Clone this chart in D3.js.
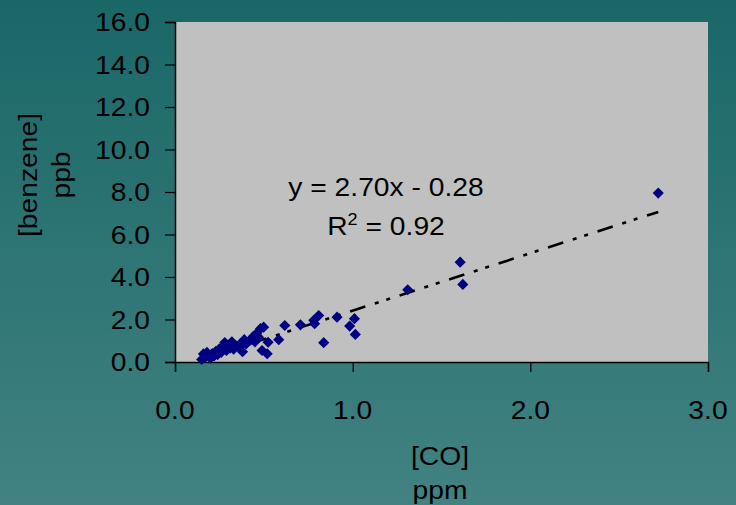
<!DOCTYPE html>
<html>
<head>
<meta charset="utf-8">
<script src="https://cdn.jsdelivr.net/npm/d3@7"></script>
<style>
  html, body { margin: 0; padding: 0; }
  body { width: 736px; height: 505px; overflow: hidden; }
  text { font-family: "Liberation Sans", Arial, sans-serif; fill: #000; }
</style>
</head>
<body>
<svg id="chart" width="736" height="505"></svg>
<script>
// CO (ppm) vs benzene (ppb) samples
const coPpm = [
  2.72, 1.605, 1.62, 1.31, 1.015, 1.01, 0.983, 0.912, 0.837, 0.809,
  0.781, 0.786, 0.706, 0.618, 0.584, 0.524, 0.519, 0.49, 0.499, 0.481,
  0.15, 0.16, 0.17, 0.18, 0.19, 0.20, 0.21, 0.22, 0.23, 0.24,
  0.25, 0.26, 0.27, 0.28, 0.29, 0.30, 0.31, 0.32, 0.33, 0.34,
  0.36, 0.37, 0.38, 0.39, 0.40, 0.42, 0.44, 0.45, 0.46, 0.47
];
const benzenePpb = [
  7.95, 4.70, 3.65, 3.40, 1.30, 2.04, 1.69, 2.11, 0.91, 2.19,
  1.96, 1.80, 1.75, 1.72, 1.05, 0.93, 0.39, 0.54, 1.64, 1.57,
  0.12, 0.38, 0.22, 0.45, 0.30, 0.18, 0.40, 0.28, 0.50, 0.35,
  0.62, 0.45, 0.72, 0.92, 0.55, 0.80, 0.65, 0.95, 0.60, 0.78,
  0.70, 0.88, 0.48, 1.05, 0.85, 1.00, 1.20, 0.95, 1.35, 1.17
];
const xTicks = [0, 1, 2, 3];
const yTicks = [0, 2, 4, 6, 8, 10, 12, 14, 16];
const fitSlope = 2.70;
const fitIntercept = -0.28;
const fitLabel = "y = 2.70x - 0.28";
const r2Label = "0.92";

const svg = d3.select("#chart");
const W = 736, H = 505;
const plot = { left: 175, right: 708, top: 22, bottom: 362 };
const stretch = 1.13; // fonts are slightly wide

// background gradient
const defs = svg.append("defs");
const grad = defs.append("linearGradient").attr("id", "bg")
  .attr("x1", 0).attr("y1", 0).attr("x2", 0).attr("y2", 1);
grad.append("stop").attr("offset", "0%").attr("stop-color", "#1a6767");
grad.append("stop").attr("offset", "100%").attr("stop-color", "#428282");
svg.append("rect").attr("width", W).attr("height", H).attr("fill", "url(#bg)");

const x = d3.scaleLinear().domain([0, 3]).range([plot.left, plot.right]);
const y = d3.scaleLinear().domain([0, 16]).range([plot.bottom, plot.top]);

// plot area
svg.append("rect")
  .attr("x", plot.left).attr("y", plot.top)
  .attr("width", plot.right - plot.left).attr("height", plot.bottom - plot.top)
  .attr("fill", "#c0c0c0");

function wideText(g, tx, ty, str, anchor, size) {
  return g.append("text")
    .attr("transform", `translate(${tx},${ty}) scale(${stretch},1)`)
    .attr("text-anchor", anchor)
    .style("font-size", size + "px")
    .text(str);
}

// y axis
const yAxis = svg.append("g")
  .attr("transform", `translate(${plot.left},0)`)
  .call(d3.axisLeft(y).tickValues(yTicks).tickSize(10).tickFormat(""));
yAxis.select(".domain").attr("stroke", "#000").attr("stroke-width", 1.5);
yAxis.selectAll(".tick line").attr("stroke", "#000").attr("stroke-width", 1.2);
yTicks.forEach(v => wideText(svg, 150, y(v) + 9, d3.format(".1f")(v), "end", 25));

// x axis
const xAxis = svg.append("g")
  .attr("transform", `translate(0,${plot.bottom})`)
  .call(d3.axisBottom(x).tickValues(xTicks).tickSize(10).tickFormat(""));
xAxis.select(".domain").attr("stroke", "#000").attr("stroke-width", 1.5);
xAxis.selectAll(".tick line").attr("stroke", "#000").attr("stroke-width", 1.2);
xTicks.forEach(v => wideText(svg, x(v), 419, d3.format(".1f")(v), "middle", 25));

// axis titles
wideText(svg, 440, 465, "[CO]", "middle", 25);
wideText(svg, 440, 499, "ppm", "middle", 25);
const yt1 = svg.append("g").attr("transform", `translate(37,175) rotate(-90)`);
yt1.append("text").attr("text-anchor", "middle").style("font-size", "25px")
  .attr("transform", `scale(${stretch},1)`).text("[benzene]");
const yt2 = svg.append("g").attr("transform", `translate(70,175) rotate(-90)`);
yt2.append("text").attr("text-anchor", "middle").style("font-size", "25px")
  .attr("transform", `scale(${stretch},1)`).text("ppb");

// linear fit line (dash-dot-dot)
const xMin = d3.min(coPpm), xMax = d3.max(coPpm);
svg.append("line")
  .attr("x1", x(xMin)).attr("y1", y(fitSlope * xMin + fitIntercept))
  .attr("x2", x(xMax)).attr("y2", y(fitSlope * xMax + fitIntercept))
  .attr("stroke", "#000").attr("stroke-width", 2.6)
  .attr("stroke-dasharray", "16,10,4,8,4,10");

// points
const diamond = d3.symbol().type(d3.symbolSquare).size(62);
svg.append("g").selectAll("path")
  .data(coPpm.map((c, i) => [c, benzenePpb[i]]))
  .join("path")
  .attr("d", diamond)
  .attr("transform", d => `translate(${x(d[0])},${y(d[1])}) rotate(45)`)
  .attr("fill", "#000080");

// equation labels
wideText(svg, 386, 196, fitLabel, "middle", 25);
const r2 = svg.append("text")
  .attr("transform", `translate(386,235) scale(${stretch},1)`)
  .attr("text-anchor", "middle")
  .style("font-size", "25px");
r2.append("tspan").text("R");
r2.append("tspan").attr("dy", -10).style("font-size", "16px").text("2");
r2.append("tspan").attr("dy", 10).text(" = " + r2Label);
</script>
</body>
</html>
